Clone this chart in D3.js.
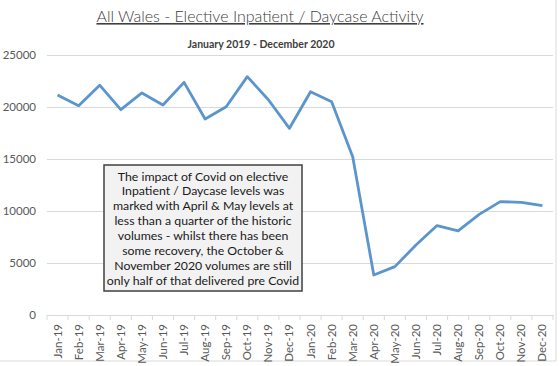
<!DOCTYPE html>
<html>
<head>
<meta charset="utf-8">
<script src="https://cdn.jsdelivr.net/npm/d3@7"></script>
<style>
  body { margin: 0; background: #fff; }
  svg { display: block; font-family: Lato, "Open Sans", sans-serif; }
</style>
</head>
<body>
<svg id="chart" width="560" height="366"></svg>
<script>
// data
const months = ["Jan-19", "Feb-19", "Mar-19", "Apr-19", "May-19", "Jun-19", "Jul-19", "Aug-19",
    "Sep-19", "Oct-19", "Nov-19", "Dec-19", "Jan-20", "Feb-20", "Mar-20", "Apr-20", "May-20",
    "Jun-20", "Jul-20", "Aug-20", "Sep-20", "Oct-20", "Nov-20", "Dec-20"];
const activity = [21150, 20130, 22100, 19740, 21350, 20190, 22370, 18850, 20030, 22920, 20700, 17950,
    21470, 20510, 15220, 3850, 4650, 6730, 8600, 8080, 9680, 10900, 10830, 10510];
const yTicks = [0, 5000, 10000, 15000, 20000, 25000];
const noteLines = [
    "The impact of Covid on elective",
    "Inpatient / Daycase levels was",
    "marked with April & May levels at",
    "less than a quarter of the historic",
    "volumes - whilst there has been",
    "some recovery, the October &",
    "November 2020 volumes are still",
    "only half of that delivered pre Covid"
];

let svg = d3.select("#chart");
let margin = {top: 55, right: 7, bottom: 51, left: 47};
let width = 560 - margin.left - margin.right;
let height = 366 - margin.top - margin.bottom;

// outer frame (right / bottom edge visible in the picture)
svg.append("path")
    .attr("d", "M556,0V361H0")
    .attr("fill", "none")
    .attr("stroke", "#d9d9d9");

svg.append("text")
    .attr("x", 260).attr("y", 22)
    .attr("text-anchor", "middle")
    .attr("font-size", 16)
    .attr("font-weight", 300)
    .attr("fill", "#404040")
    .attr("text-decoration", "underline")
    .text("All Wales - Elective Inpatient / Daycase Activity");

svg.append("text")
    .attr("x", 261).attr("y", 48)
    .attr("text-anchor", "middle")
    .attr("font-size", 10.5)
    .attr("font-weight", 700)
    .attr("fill", "#404040")
    .text("January  2019 - December 2020");

let g = svg.append("g")
    .attr("transform", "translate(" + margin.left + "," + margin.top + ")");

let x = d3.scaleBand().domain(months).range([0, width]);
let y = d3.scaleLinear().domain([0, 25000]).range([height, 0]);

// gridlines + y labels
let yAxis = g.append("g")
    .call(d3.axisLeft(y).tickValues(yTicks).tickSize(-width).tickPadding(11).tickFormat(d3.format("d")));
yAxis.select(".domain").remove();
yAxis.selectAll(".tick line").attr("stroke", "#d9d9d9");
yAxis.selectAll(".tick text")
    .attr("font-size", 11.5)
    .attr("font-family", "Lato, sans-serif")
    .attr("fill", "#595959");

// x axis with boundary ticks
let xAxis = g.append("g")
    .attr("transform", "translate(0," + height + ")")
    .call(d3.axisBottom(x).tickSize(0).tickPadding(0));
xAxis.select(".domain").attr("stroke", "#d9d9d9");
xAxis.selectAll(".tick text")
    .attr("transform", "rotate(-90)")
    .attr("text-anchor", "end")
    .attr("dx", "-9")
    .attr("dy", "0.35em")
    .attr("y", 0)
    .attr("font-size", 11.5)
    .attr("font-family", "Lato, sans-serif")
    .attr("fill", "#595959");
g.append("g")
    .selectAll("line")
    .data(d3.range(months.length + 1))
    .enter().append("line")
    .attr("x1", i => i * x.bandwidth())
    .attr("x2", i => i * x.bandwidth())
    .attr("y1", height)
    .attr("y2", height + 5)
    .attr("stroke", "#d9d9d9");

// the series
let line = d3.line()
    .x((d, i) => x(months[i]) + x.bandwidth() / 2)
    .y(d => y(d));
g.append("path")
    .datum(activity)
    .attr("fill", "none")
    .attr("stroke", "#5b95cd")
    .attr("stroke-width", 2.8)
    .attr("stroke-linejoin", "round")
    .attr("d", line);

// annotation box
let note = svg.append("g");
note.append("rect")
    .attr("x", 104).attr("y", 165)
    .attr("width", 198).attr("height", 126)
    .attr("fill", "#f2f2f2")
    .attr("stroke", "#404040")
    .attr("stroke-width", 1.5);
note.selectAll("text")
    .data(noteLines)
    .enter().append("text")
    .attr("x", 203)
    .attr("y", (d, i) => 180.5 + i * 14.9)
    .attr("text-anchor", "middle")
    .attr("font-size", 12.3)
    .attr("fill", "#1a1a1a")
    .text(d => d);
</script>
</body>
</html>
